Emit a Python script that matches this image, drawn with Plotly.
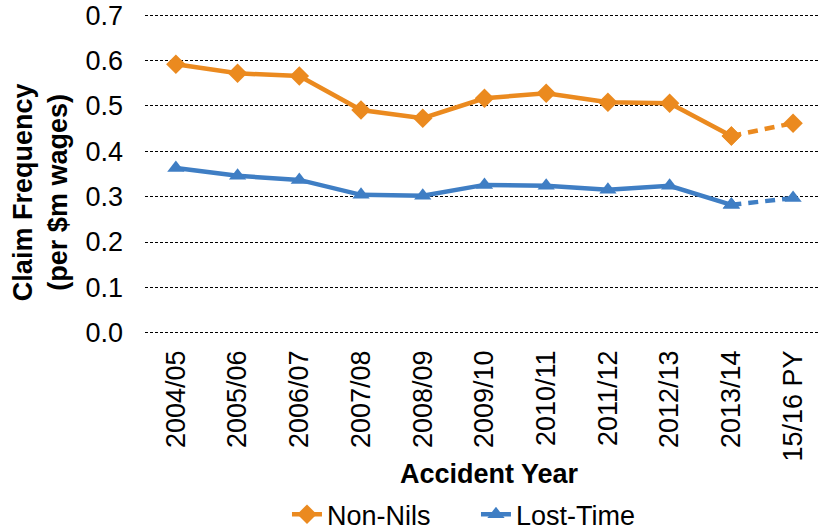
import plotly.graph_objects as go

categories = ["2004/05", "2005/06", "2006/07", "2007/08", "2008/09", "2009/10",
              "2010/11", "2011/12", "2012/13", "2013/14", "15/16 PY"]
non_nils = [0.592, 0.572, 0.566, 0.491, 0.473, 0.517, 0.528, 0.508, 0.506, 0.434, 0.462]
lost_time = [0.363, 0.346, 0.337, 0.304, 0.302, 0.326, 0.324, 0.315, 0.324, 0.282, 0.297]
y_ticks = [0.0, 0.1, 0.2, 0.3, 0.4, 0.5, 0.6, 0.7]

ORANGE = "#EB8A1F"
BLUE = "#3F7EC4"
FONT = "Liberation Sans, Arial, sans-serif"
FS = 27

fig = go.Figure()

def add_series(name, vals, color, symbol):
    # solid actual part
    fig.add_trace(go.Scatter(
        x=categories[:-1], y=vals[:-1], name=name, mode="lines+markers",
        line=dict(color=color, width=4.5),
        marker=dict(symbol=symbol, size=15, color=color),
        showlegend=True, legendgroup=name))
    # dashed projected part
    fig.add_trace(go.Scatter(
        x=categories[-2:], y=vals[-2:], name=name, mode="lines+markers",
        line=dict(color=color, width=4.5, dash="10px,7px"),
        marker=dict(symbol=symbol, size=15, color=color),
        showlegend=False, legendgroup=name))

add_series("Non-Nils", non_nils, ORANGE, "diamond")
add_series("Lost-Time", lost_time, BLUE, "triangle-up")

fig.update_layout(
    width=819, height=530,
    margin=dict(l=145, r=0, t=12.73, b=194.73, autoexpand=False),
    paper_bgcolor="white", plot_bgcolor="white",
    font=dict(family=FONT, size=FS, color="black"),
    showlegend=True,
    legend=dict(orientation="h", xref="container", yref="paper",
                x=0.3504, y=-0.558, xanchor="left", yanchor="middle",
                entrywidth=144, entrywidthmode="pixels",
                font=dict(size=FS), traceorder="normal"),
    annotations=[
        dict(text="<b>Claim Frequency<br>(per $m wages)</b>", textangle=-90,
             xref="paper", yref="y", x=0, y=0.31, xshift=-105,
             xanchor="center", yanchor="middle", showarrow=False,
             font=dict(size=FS, family=FONT)),
        dict(text="<b>Accident Year</b>",
             xref="paper", yref="paper", x=0.5, y=0, xshift=7, yshift=-139,
             xanchor="center", yanchor="middle", showarrow=False,
             font=dict(size=FS, family=FONT)),
    ],
)

fig.update_xaxes(
    type="category", categoryorder="array", categoryarray=categories,
    range=[-0.5, 10.42], automargin=False,
    tickangle=-90, tickfont=dict(size=FS, family=FONT), ticklabelstandoff=9,
    showgrid=False, showline=False, zeroline=False, ticks="",
)

fig.update_yaxes(
    range=[-0.005, 0.705], automargin=False,
    tickvals=y_ticks, ticktext=[f"{v:.1f}" for v in y_ticks],
    tickfont=dict(size=FS, family=FONT), ticklabeloverflow="allow",
    showgrid=True, gridcolor="black", gridwidth=1, griddash="3px,2px",
    showline=False, zeroline=False, ticks="", ticklabelstandoff=21,
)

fig.write_html("out.html", config={"displayModeBar": False},
               post_script="document.body.style.margin='0px';")
